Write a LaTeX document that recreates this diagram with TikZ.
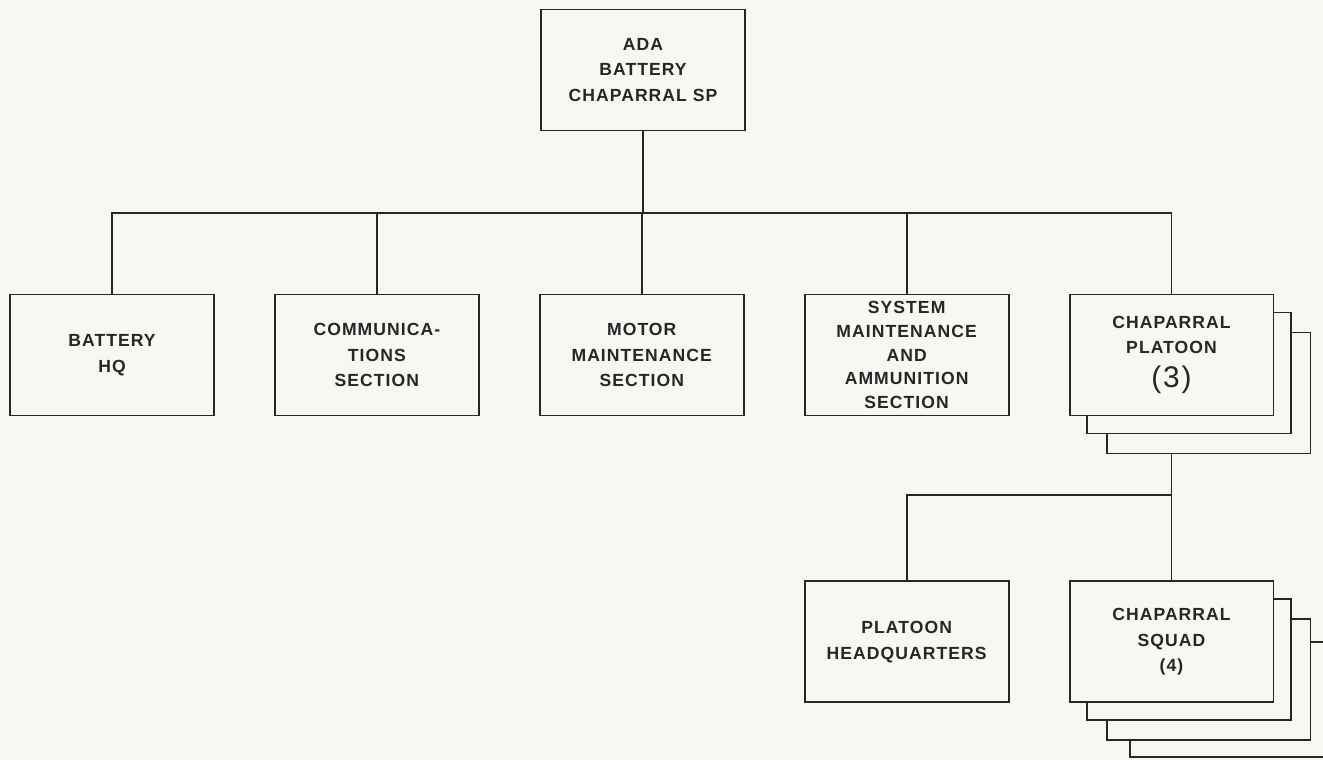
\documentclass[tikz,border=0pt]{standalone}
\usepackage{fontspec}
\newfontfamily\orgfont[LetterSpace=6]{Liberation Sans}
\usepackage{tikz}
\usetikzlibrary{positioning, shadows, backgrounds}
\definecolor{paper}{RGB}{247,247,243}
\definecolor{ink}{RGB}{38,38,38}
\newcommand\bignum[1]{{\mdseries\fontsize{17}{17}\selectfont(#1)}}
\tikzset{
  unit/.style ={rectangle, draw=ink, fill=paper, line width=1.1pt, align=center, text=ink,
                minimum width=4.08cm, minimum height=2.42cm, inner sep=2pt,
                font=\orgfont\bfseries\fontsize{10}{14.5}\selectfont},
  stack/.style={unit,
                copy shadow={shadow xshift=0.74cm, shadow yshift=-0.76cm, fill=paper, draw=ink, line width=1.1pt},
                copy shadow={shadow xshift=0.35cm, shadow yshift=-0.36cm, fill=paper, draw=ink, line width=1.1pt}},
  ln/.style   ={draw=ink, line width=1.1pt},
}

\begin{document}
\begin{tikzpicture}[x=0.02cm, y=-0.02cm]
  \useasboundingbox (0,0) rectangle (1323,760);
  \node[unit] (ada) at (643,70) {ADA\\BATTERY\\CHAPARRAL SP};
  \node[unit] (hq) at (112,355) {BATTERY\\HQ};
  \node[unit, right=1.18cm of hq] (comm) {COMMUNICA-\\TIONS\\SECTION};
  \node[unit, right=1.18cm of comm] (motor) {MOTOR\\MAINTENANCE\\SECTION};
  \node[unit, right=1.18cm of motor, font=\orgfont\bfseries\fontsize{10}{13.5}\selectfont] (sys)
    {SYSTEM\\MAINTENANCE\\AND\\AMMUNITION\\SECTION};
  \node[stack, right=1.18cm of sys] (plt) {CHAPARRAL\\PLATOON\\[5pt]\bignum{3}};
  \node[stack, below=3.28cm of plt] (sqd) {CHAPARRAL\\SQUAD\\(4)};
  \node[unit, left=1.18cm of sqd] (phq) {PLATOON\\HEADQUARTERS};
  % lines sit behind the boxes
  \begin{scope}[on background layer]
    \fill[paper] (0,0) rectangle (1323,760);
    \coordinate (bus) at (643,213);
    \draw[ln] (ada.south) -- (bus);
    \draw[ln] (hq.north) |- (bus) -| (plt.north);
    \foreach \n in {comm, motor, sys} \draw[ln] (\n.north) -- (\n.north |- bus);
    \draw[ln] (plt.south) -- coordinate[pos=0.48] (jn) (sqd.north);
    \draw[ln] (phq.north) |- (jn);
    \coordinate (rim) at (1323,643);
    \draw[ln] (sqd.east) -- (sqd.east -| rim);
    \coordinate (tail) at (1130,757);
    \coordinate (tailend) at (1323,757);
    \draw[ln] (tail |- sqd.south) -- (tail) -- (tailend);
  \end{scope}
\end{tikzpicture}
\end{document}
